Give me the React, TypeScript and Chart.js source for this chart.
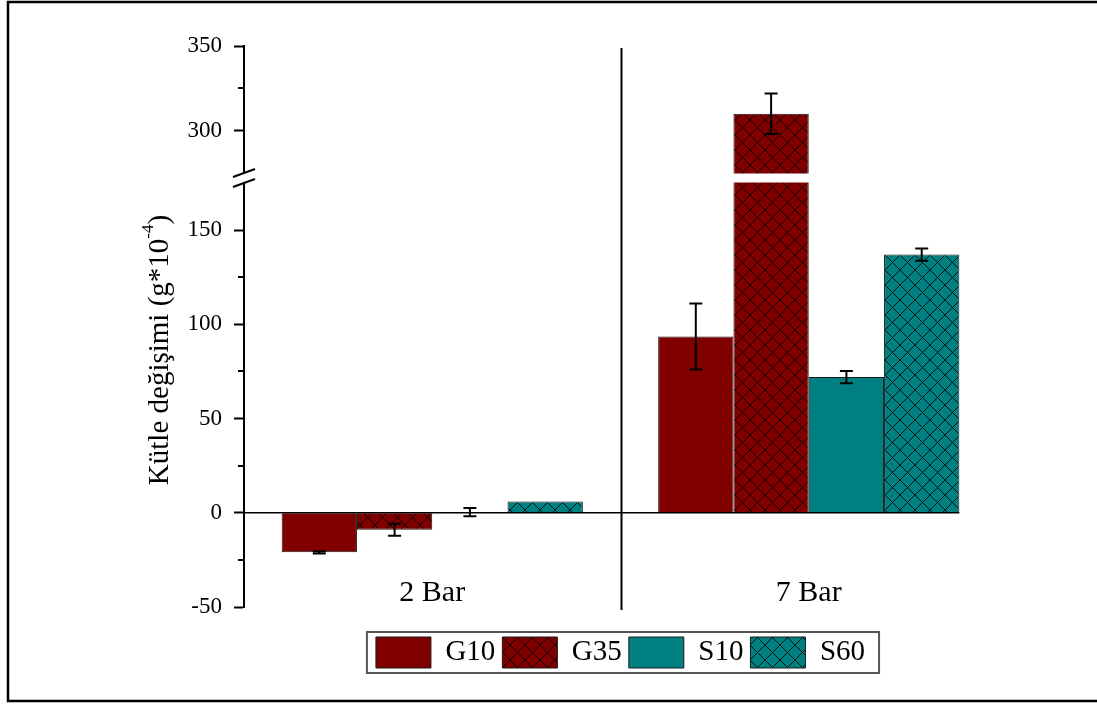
import React, { useEffect, useRef } from 'react';
import { Chart, registerables, LinearScale } from 'chart.js';

// ---------- data ----------
const categories = ['2 Bar', '7 Bar'];
const seriesNames = ['G10', 'G35', 'S10', 'S60'];
const g10Values = [-21, 93.5];
const g10Errors = [0.6, 17.5];
const g35Values = [-9, 310];
const g35Errors = [3.2, 12];
const s10Values = [0.3, 72];
const s10Errors = [2.2, 3.3];
const s60Values = [6, 137];
const s60Errors = [0, 3.3];
const yTickValues = [-50, 0, 50, 100, 150, 300, 350];
const yMinorTickValues = [-25, 25, 75, 125, 325];
const yAxisTitle = 'Kütle değişimi (g*10';
const yAxisTitleSup = '-4';
const yAxisTitleEnd = ')';

// ---------- broken axis settings ----------
const Y_MIN = -50;
const Y_MAX = 350;
const BREAK_LOW = 175;
const BREAK_HIGH = 275;
const LOWER_FRAC = 424 / 561;
const GAP_FRAC = 10 / 561;

const MAROON = '#800000';
const TEAL = '#008080';
const FONT = '"Liberation Serif", "Times New Roman", serif';

class BrokenLinearScale extends LinearScale {
  static id = 'brokenLinear';
  static defaults = LinearScale.defaults;

  segs() {
    const top = this.top;
    const bottom = this.bottom;
    const h = bottom - top;
    const lowerTop = bottom - h * LOWER_FRAC;
    const upperBottom = lowerTop - h * GAP_FRAC;
    return { top, bottom, lowerTop, upperBottom };
  }

  getPixelForValue(value: number) {
    const { top, bottom, lowerTop, upperBottom } = this.segs();
    const min = this.min;
    const max = this.max;
    if (value <= BREAK_LOW) {
      return bottom - ((value - min) / (BREAK_LOW - min)) * (bottom - lowerTop);
    }
    if (value >= BREAK_HIGH) {
      return upperBottom - ((value - BREAK_HIGH) / (max - BREAK_HIGH)) * (upperBottom - top);
    }
    return lowerTop - ((value - BREAK_LOW) / (BREAK_HIGH - BREAK_LOW)) * (lowerTop - upperBottom);
  }

  getValueForPixel(pixel: number) {
    const { top, bottom, lowerTop, upperBottom } = this.segs();
    const min = this.min;
    const max = this.max;
    if (pixel >= lowerTop) {
      return min + ((bottom - pixel) / (bottom - lowerTop)) * (BREAK_LOW - min);
    }
    if (pixel <= upperBottom) {
      return BREAK_HIGH + ((upperBottom - pixel) / (upperBottom - top)) * (max - BREAK_HIGH);
    }
    return BREAK_LOW + ((lowerTop - pixel) / (lowerTop - upperBottom)) * (BREAK_HIGH - BREAK_LOW);
  }
}

Chart.register(...registerables, BrokenLinearScale);

function makeHatch(color: string): CanvasPattern | string {
  const size = 15;
  const c = document.createElement('canvas');
  c.width = size;
  c.height = size;
  const ctx = c.getContext('2d');
  if (!ctx) return color;
  ctx.fillStyle = color;
  ctx.fillRect(0, 0, size, size);
  ctx.strokeStyle = 'rgba(0,0,0,0.85)';
  ctx.lineWidth = 1;
  ctx.beginPath();
  for (const k of [-size, 0, size]) {
    ctx.moveTo(k - 1, -1);
    ctx.lineTo(k + size + 1, size + 1);
    ctx.moveTo(k + size + 1, -1);
    ctx.lineTo(k - 1, size + 1);
  }
  ctx.stroke();
  const p = ctx.createPattern(c, 'repeat');
  return p || color;
}

const decorPlugin = {
  id: 'decor',
  beforeDraw(chart: any) {
    const { ctx, width, height } = chart;
    ctx.save();
    ctx.fillStyle = '#ffffff';
    ctx.fillRect(0, 0, width, height);
    // outer frame
    ctx.strokeStyle = '#000';
    ctx.lineWidth = 2.5;
    ctx.beginPath();
    ctx.moveTo(width, 2);
    ctx.lineTo(8, 2);
    ctx.lineTo(8, 701);
    ctx.lineTo(width, 701);
    ctx.stroke();
    ctx.restore();
  },
  afterDatasetsDraw(chart: any) {
    const { ctx, chartArea } = chart;
    const x = chart.scales.x;
    const y = chart.scales.y;
    const gapTop = y.getPixelForValue(BREAK_HIGH);
    const gapBottom = y.getPixelForValue(BREAK_LOW);
    ctx.save();
    let lastRight = chartArea.left;
    // white gap across bars that cross the break
    chart.data.datasets.forEach((ds: any, i: number) => {
      const meta = chart.getDatasetMeta(i);
      meta.data.forEach((bar: any, j: number) => {
        const { x: bx, width } = bar.getProps(['x', 'width'], true);
        lastRight = Math.max(lastRight, bx + width / 2);
        if (ds.data[j] > BREAK_HIGH) {
          ctx.fillStyle = '#ffffff';
          ctx.fillRect(bx - width / 2 - 1, gapTop + 0.5, width + 2, gapBottom - gapTop - 1);
        }
      });
    });
    // zero line
    const y0 = y.getPixelForValue(0);
    ctx.strokeStyle = '#000';
    ctx.lineWidth = 1.5;
    ctx.beginPath();
    ctx.moveTo(chartArea.left, y0);
    ctx.lineTo(lastRight, y0);
    ctx.stroke();
    // divider between groups
    const xd = Math.round(x.getPixelForValue(0.5)) + 0.5;
    ctx.lineWidth = 2;
    ctx.beginPath();
    ctx.moveTo(xd, chartArea.top + 2);
    ctx.lineTo(xd, chartArea.bottom + 3);
    ctx.stroke();
    // error bars
    chart.data.datasets.forEach((ds: any, i: number) => {
      const meta = chart.getDatasetMeta(i);
      const errs: number[] = ds.errors || [];
      meta.data.forEach((bar: any, j: number) => {
        const e = errs[j];
        if (!e) return;
        const v = ds.data[j];
        const { x: bx } = bar.getProps(['x'], true);
        const yHi = y.getPixelForValue(v + e);
        const yLo = y.getPixelForValue(v - e);
        const cap = 6.5;
        ctx.strokeStyle = '#000';
        ctx.lineWidth = 2;
        ctx.beginPath();
        ctx.moveTo(bx, yHi);
        ctx.lineTo(bx, yLo);
        ctx.moveTo(bx - cap, yHi);
        ctx.lineTo(bx + cap, yHi);
        ctx.moveTo(bx - cap, yLo);
        ctx.lineTo(bx + cap, yLo);
        ctx.stroke();
      });
    });
    ctx.restore();
  },
  afterDraw(chart: any) {
    const { ctx, chartArea } = chart;
    const y = chart.scales.y;
    const ax = chartArea.left;
    ctx.save();
    // minor ticks
    ctx.strokeStyle = '#000';
    ctx.lineWidth = 2;
    ctx.beginPath();
    yMinorTickValues.forEach((v) => {
      const py = Math.round(y.getPixelForValue(v));
      ctx.moveTo(ax - 6, py);
      ctx.lineTo(ax, py);
    });
    ctx.stroke();
    // axis break
    const gapTop = y.getPixelForValue(BREAK_HIGH);
    const gapBottom = y.getPixelForValue(BREAK_LOW);
    ctx.fillStyle = '#fff';
    ctx.fillRect(ax - 3, gapTop, 6, gapBottom - gapTop);
    ctx.lineWidth = 2;
    ctx.beginPath();
    ctx.moveTo(ax - 11, gapTop + 4);
    ctx.lineTo(ax + 11, gapTop - 4);
    ctx.moveTo(ax - 11, gapBottom + 4);
    ctx.lineTo(ax + 11, gapBottom - 4);
    ctx.stroke();
    // y axis title with superscript
    ctx.translate(168, (chartArea.top + chartArea.bottom) / 2 + 23.5);
    ctx.rotate(-Math.PI / 2);
    ctx.fillStyle = '#000';
    ctx.textBaseline = 'alphabetic';
    ctx.textAlign = 'left';
    const mainFont = `29px ${FONT}`;
    const supFont = `17px ${FONT}`;
    ctx.font = mainFont;
    const w1 = ctx.measureText(yAxisTitle).width;
    const w3 = ctx.measureText(yAxisTitleEnd).width;
    ctx.font = supFont;
    const w2 = ctx.measureText(yAxisTitleSup).width;
    let cx = -(w1 + w2 + w3) / 2;
    ctx.font = mainFont;
    ctx.fillText(yAxisTitle, cx, 0);
    cx += w1;
    ctx.font = supFont;
    ctx.fillText(yAxisTitleSup, cx, -15);
    cx += w2;
    ctx.font = mainFont;
    ctx.fillText(yAxisTitleEnd, cx, 0);
    ctx.setTransform(1, 0, 0, 1, 0, 0);
    // legend frame
    const legend = chart.legend;
    if (legend && legend.legendHitBoxes && legend.legendHitBoxes.length) {
      const hb = legend.legendHitBoxes;
      const first = hb[0];
      const last = hb[hb.length - 1];
      const x0 = first.left - 9;
      const x1 = last.left + last.width + 14;
      const y0 = first.top - 5;
      const y1 = first.top + 31 + 5;
      ctx.strokeStyle = '#555';
      ctx.lineWidth = 2;
      ctx.strokeRect(x0, y0, x1 - x0, y1 - y0);
    }
    ctx.restore();
  },
};

export default function App() {
  const ref = useRef<HTMLCanvasElement | null>(null);

  useEffect(() => {
    document.body.style.margin = '0';
    const canvas = ref.current;
    if (!canvas) return;
    const maroonHatch = makeHatch(MAROON);
    const tealHatch = makeHatch(TEAL);
    const seriesValues = [g10Values, g35Values, s10Values, s60Values];
    const seriesErrors = [g10Errors, g35Errors, s10Errors, s60Errors];
    const fills = [MAROON, maroonHatch, TEAL, tealHatch];

    const chart = new Chart(canvas, {
      type: 'bar',
      data: {
        labels: categories,
        datasets: seriesNames.map((name, i) => ({
          label: name,
          data: seriesValues[i],
          errors: seriesErrors[i],
          backgroundColor: fills[i],
          borderColor: '#1a1a1a',
          borderWidth: 1,
          categoryPercentage: 0.8,
          barPercentage: 1.0,
        })) as any,
      },
      options: {
        responsive: false,
        animation: false,
        events: [],
        layout: { padding: { top: 46, right: 100, bottom: 26, left: 0 } },
        scales: {
          x: {
            type: 'category',
            grid: { display: false, drawTicks: false },
            border: { display: false },
            ticks: {
              color: '#000',
              font: { family: FONT, size: 30 },
              mirror: true,
              padding: -4,
              maxRotation: 0,
              autoSkip: false,
            },
            afterFit: (s: any) => {
              s.height = 23;
            },
          },
          y: {
            type: 'brokenLinear' as any,
            min: Y_MIN,
            max: Y_MAX,
            afterBuildTicks: (s: any) => {
              s.ticks = yTickValues.map((v) => ({ value: v }));
            },
            afterFit: (s: any) => {
              s.width = 244;
            },
            grid: {
              display: true,
              drawOnChartArea: false,
              drawTicks: true,
              tickLength: 10,
              tickWidth: 2,
              tickColor: '#000',
            },
            border: { display: true, width: 2, color: '#000' },
            ticks: {
              color: '#000',
              font: { family: FONT, size: 23 },
              padding: 12,
              autoSkip: false,
              callback: (v: any) => String(v),
            },
          },
        },
        plugins: {
          legend: {
            position: 'bottom',
            fullSize: false,
            labels: {
              boxWidth: 55,
              boxHeight: 31,
              padding: 7,
              color: '#000',
              font: { family: FONT, size: 29 },
            },
          },
          tooltip: { enabled: false },
          title: { display: false },
        },
      } as any,
      plugins: [decorPlugin],
    });
    return () => chart.destroy();
  }, []);

  return (
    <div style={{ position: 'absolute', left: 0, top: 0, width: 1097, height: 704 }}>
      <canvas ref={ref} width={1097} height={704} style={{ display: 'block' }} />
    </div>
  );
}
